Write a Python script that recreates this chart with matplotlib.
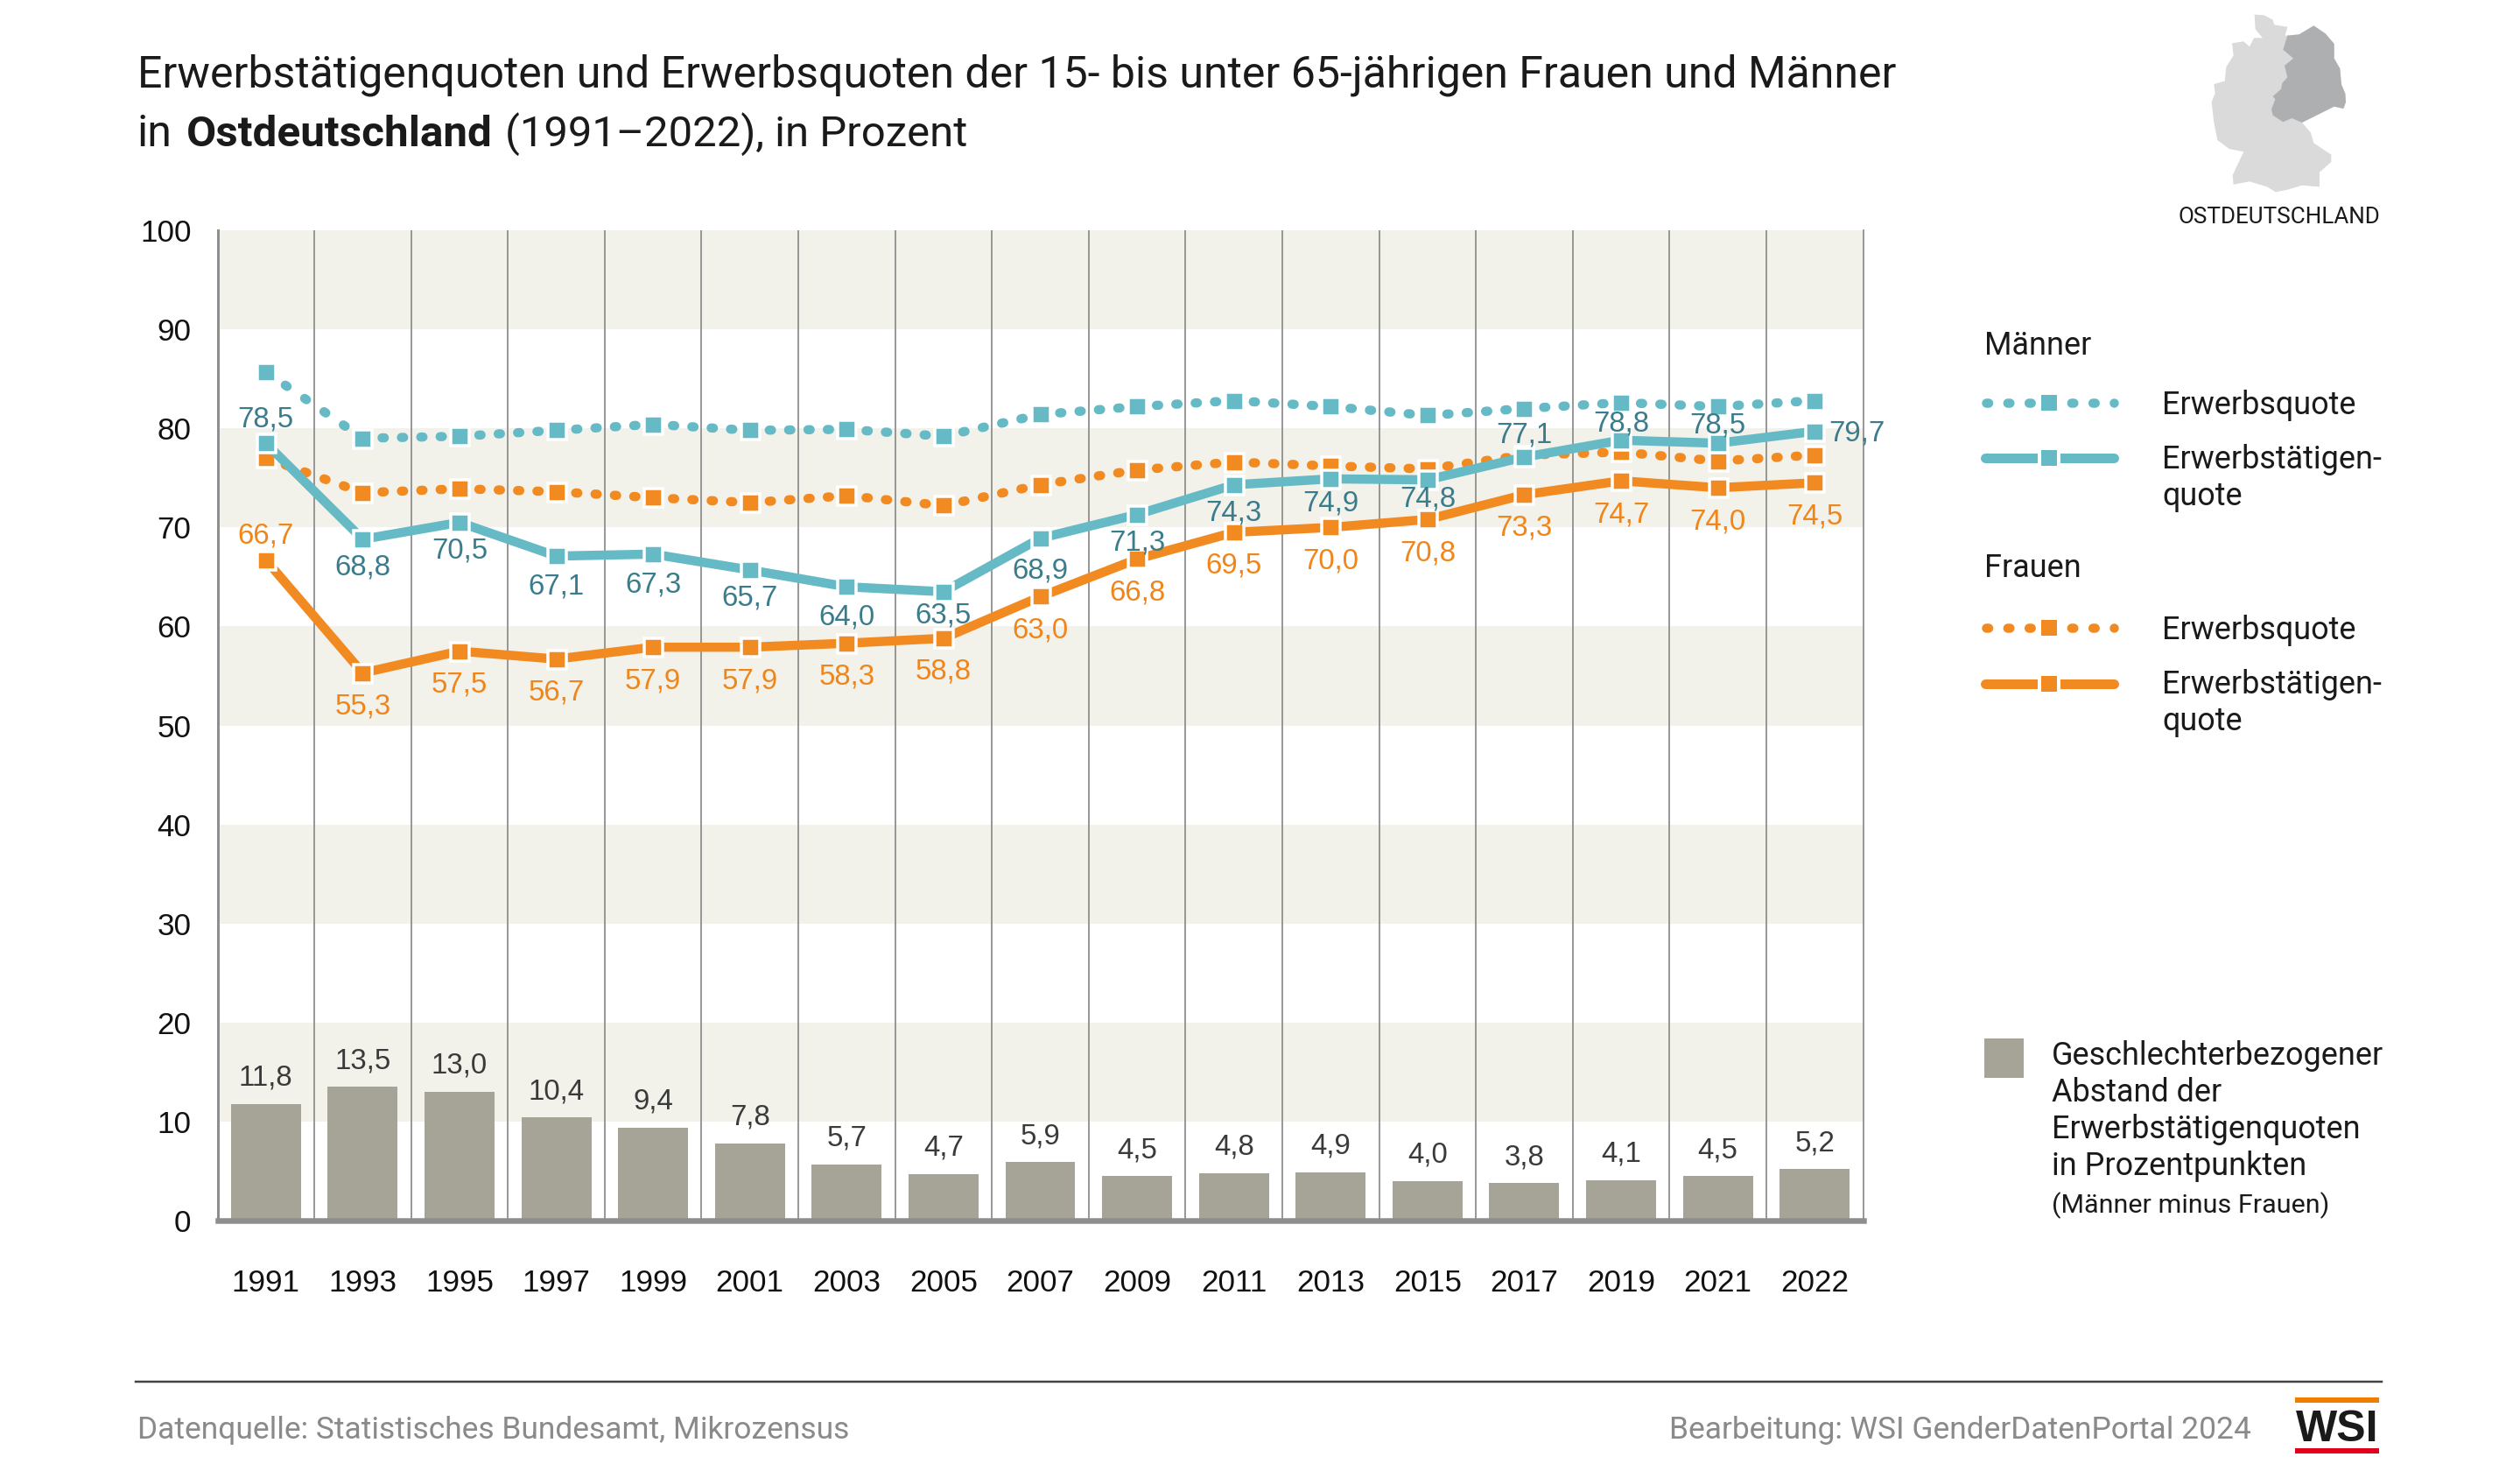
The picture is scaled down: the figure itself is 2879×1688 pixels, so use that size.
import matplotlib
matplotlib.use("Agg")
import matplotlib.pyplot as plt
from matplotlib.lines import Line2D
from matplotlib.patches import Polygon, Rectangle

W, H = 2879, 1688
plt.rcParams["font.family"] = ["Liberation Sans"]
WORDS = "Roboto"

TEAL = "#66BAC6"
TEAL_TXT = "#3B7C8C"
ORANGE = "#F28A22"
ORANGE_TXT = "#F0851A"
BAR = "#A6A496"
BAND = "#F2F2EA"
GRID = "#8E8E8E"
GREY_TXT = "#8A8A8A"

years = ["1991", "1993", "1995", "1997", "1999", "2001", "2003", "2005", "2007",
         "2009", "2011", "2013", "2015", "2017", "2019", "2021", "2022"]
maenner_erwerb = [85.7, 79.0, 79.2, 79.8, 80.4, 79.8, 79.9, 79.2, 81.4,
                  82.2, 82.8, 82.2, 81.3, 82.0, 82.6, 82.2, 82.8]
frauen_erwerb = [77.0, 73.5, 73.9, 73.6, 73.0, 72.5, 73.2, 72.2, 74.3,
                 75.8, 76.6, 76.2, 75.9, 77.3, 77.6, 76.7, 77.3]
maenner_taetig = [78.5, 68.8, 70.5, 67.1, 67.3, 65.7, 64.0, 63.5, 68.9,
                  71.3, 74.3, 74.9, 74.8, 77.1, 78.8, 78.5, 79.7]
frauen_taetig = [66.7, 55.3, 57.5, 56.7, 57.9, 57.9, 58.3, 58.8, 63.0,
                 66.8, 69.5, 70.0, 70.8, 73.3, 74.7, 74.0, 74.5]
abstand = [11.8, 13.5, 13.0, 10.4, 9.4, 7.8, 5.7, 4.7, 5.9,
           4.5, 4.8, 4.9, 4.0, 3.8, 4.1, 4.5, 5.2]
band_starts = [90, 70, 50, 30, 10]
yticks = list(range(0, 101, 10))

# label nudges in pixels, positive is upward
maenner_nudge = [-4, 0, 0, -2, -3, 0, -2, 5, -5, 0, 0, 4, 11, -7, -13, -11, 0]


def px(pixels):
    # pixels to points at dpi 100
    return pixels * 0.72


def de(v):
    return f"{v:.1f}".replace(".", ",")


fig = plt.figure(figsize=(W / 100, H / 100), dpi=100, facecolor="white")
ax = fig.add_axes([248.5 / W, 1 - 1394 / H, (2128.5 - 248.5) / W, (1394 - 263) / H])
xs = list(range(len(years)))
ax.set_xlim(-0.5, len(years) - 0.5)
ax.set_ylim(0, 100)

# background bands and vertical separators
for b in band_starts:
    ax.axhspan(b, b + 10, color=BAND, lw=0, zorder=0)
for i in range(1, len(years)):
    ax.axvline(i - 0.5, color=GRID, lw=px(1.8), zorder=1)

ax.bar(xs, abstand, width=0.723, color=BAR, zorder=2)
for x, v in zip(xs, abstand):
    ax.annotate(de(v), (x, v), xytext=(0, px(14)), textcoords="offset points",
                ha="center", va="bottom", fontsize=px(33), color="#3A3A3A", zorder=8)

DOT_LW = 10.5
DOT_ON = 0.24


def draw_line(vals, color, dotted, z):
    if dotted:
        # one dash pattern per segment so four dots sit between two markers
        for i in range(len(vals) - 1):
            p0 = ax.transData.transform((xs[i], vals[i]))
            p1 = ax.transData.transform((xs[i + 1], vals[i + 1]))
            seg = ((p1[0] - p0[0]) ** 2 + (p1[1] - p0[1]) ** 2) ** 0.5
            ax.plot(xs[i:i + 2], vals[i:i + 2], color=color, lw=px(DOT_LW), clip_on=False,
                    ls=(0, (DOT_ON, seg / 5 / DOT_LW - DOT_ON)), dash_capstyle="round", zorder=z)
    else:
        ax.plot(xs, vals, color=color, lw=px(10.5), solid_joinstyle="miter", zorder=z, clip_on=False)
    ax.plot(xs, vals, ls="", marker="s", ms=px(21), mfc=color, mec="white", mew=px(3.5),
            zorder=z + 0.1, clip_on=False)


draw_line(frauen_erwerb, ORANGE, True, 3)
draw_line(maenner_erwerb, TEAL, True, 4)
draw_line(frauen_taetig, ORANGE, False, 5)
draw_line(maenner_taetig, TEAL, False, 6)

# value labels: men mostly below, a few above, last one to the right
for i, (x, v) in enumerate(zip(xs, maenner_taetig)):
    above = i in (0, 13, 14, 15)
    if i == 16:
        ax.annotate(de(v), (x, v), xytext=(px(16), px(-2)), textcoords="offset points",
                    ha="left", va="center", fontsize=px(33), color=TEAL_TXT, zorder=9)
    else:
        off = px((16 if above else -17) + maenner_nudge[i])
        ax.annotate(de(v), (x, v), xytext=(0, off), textcoords="offset points", ha="center",
                    va="bottom" if above else "top", fontsize=px(33), color=TEAL_TXT, zorder=9)
for i, (x, v) in enumerate(zip(xs, frauen_taetig)):
    above = i == 0
    off = px(12) if above else px(-23)
    ax.annotate(de(v), (x, v), xytext=(0, off), textcoords="offset points", ha="center",
                va="bottom" if above else "top", fontsize=px(33), color=ORANGE_TXT, zorder=9)

ax.spines["top"].set_visible(False)
ax.spines["left"].set_color(GRID)
ax.spines["left"].set_linewidth(px(3))
ax.spines["right"].set_color(GRID)
ax.spines["right"].set_linewidth(px(1.8))
ax.spines["bottom"].set_color(GRID)
ax.spines["bottom"].set_linewidth(px(6.5))
ax.set_yticks(yticks)
ax.set_xticks(xs)
ax.set_xticklabels(years)
ax.tick_params(axis="both", length=0, labelsize=px(35), labelcolor="#111111")
ax.tick_params(axis="y", pad=px(30))
ax.tick_params(axis="x", pad=px(55))

# overlay in image pixels for title, legend, map and footer
ov = fig.add_axes([0, 0, 1, 1], facecolor="none")
ov.set_xlim(0, W)
ov.set_ylim(H, 0)
ov.axis("off")


def txt(x, y, s, size, color="#1A1A1A", **kw):
    kw.setdefault("va", "baseline")
    kw.setdefault("family", WORDS)
    return ov.text(x, y, s, fontsize=px(size), color=color, **kw)


txt(157, 100, "Erwerbstätigenquoten und Erwerbsquoten der 15- bis unter 65-jährigen Frauen und Männer", 50)
txt(157, 167, "in", 50)
txt(213, 167, "Ostdeutschland", 49.5, fontweight="bold")
txt(577, 167, "(1991–2022), in Prozent", 49)


def legend_sample(y, color, dotted):
    if dotted:
        period = 24.33 / DOT_LW
        ov.add_line(Line2D([2269, 2415], [y, y], color=color, lw=px(DOT_LW),
                           ls=(0, (DOT_ON, period - DOT_ON)), dash_capstyle="round"))
    else:
        ov.add_line(Line2D([2268, 2415], [y, y], color=color, lw=px(11), solid_capstyle="round"))
    ov.add_line(Line2D([2341], [y], ls="", marker="s", ms=px(22), mfc=color, mec="white", mew=px(4)))


txt(2267, 405, "Männer", 36)
legend_sample(460, TEAL, True)
txt(2470, 473, "Erwerbsquote", 36)
legend_sample(523, TEAL, False)
txt(2470, 535, "Erwerbstätigen-", 36)
txt(2470, 577, "quote", 36)

txt(2267, 659, "Frauen", 36)
legend_sample(717, ORANGE, True)
txt(2470, 730, "Erwerbsquote", 36)
legend_sample(781, ORANGE, False)
txt(2470, 792, "Erwerbstätigen-", 36)
txt(2470, 834, "quote", 36)

ov.add_patch(Rectangle((2267, 1186), 45, 45, color=BAR, lw=0))
for y, s in zip([1216, 1258, 1300, 1342],
                ["Geschlechterbezogener", "Abstand der", "Erwerbstätigenquoten", "in Prozentpunkten"]):
    txt(2344, y, s, 36)
txt(2344, 1385, "(Männer minus Frauen)", 30.5)

# Germany silhouette, only decoration
outline = [(527, 50), (560, 52), (590, 68), (595, 85), (640, 92), (632, 122), (680, 118), (730, 88),
           (770, 115), (800, 150), (800, 200), (820, 235), (825, 290), (838, 320), (840, 350), (832, 372),
           (800, 365), (760, 385), (690, 420), (720, 455), (730, 490), (790, 530), (790, 555), (750, 590),
           (750, 640), (690, 635), (640, 650), (600, 658), (570, 640), (510, 622), (455, 632), (452, 600),
           (490, 520), (440, 510), (400, 480), (388, 420), (380, 350), (392, 320), (388, 288), (425, 278),
           (430, 230), (455, 190), (450, 148), (490, 142), (510, 160), (525, 130), (555, 130), (530, 100)]
east = [(640, 122), (680, 118), (730, 88), (770, 115), (800, 150), (800, 200), (820, 235), (825, 290),
        (838, 320), (840, 350), (832, 372), (800, 365), (760, 385), (690, 420), (655, 405), (625, 418),
        (590, 395), (585, 375), (598, 340), (590, 330), (618, 305), (622, 285), (640, 265), (630, 225),
        (660, 200), (625, 170)]
ov.add_patch(Polygon([(2400 + a / 3, b / 3) for a, b in outline], color="#DADADA", lw=0))
ov.add_patch(Polygon([(2400 + a / 3, b / 3) for a, b in east], color="#AEAFB1", lw=0))
txt(2604, 255, "OSTDEUTSCHLAND", 26, ha="center")

# footer
ov.add_line(Line2D([155, 2721], [1578, 1578], color="#444444", lw=px(2.5)))
txt(157, 1643, "Datenquelle: Statistisches Bundesamt, Mikrozensus", 35.4, color=GREY_TXT)
txt(2572, 1643, "Bearbeitung: WSI GenderDatenPortal 2024", 35.4, color=GREY_TXT, ha="right")
ov.add_patch(Rectangle((2622, 1596), 96, 6, color="#F07D00", lw=0))
ov.add_patch(Rectangle((2622, 1654), 96, 6, color="#E2001A", lw=0))
txt(2670, 1646, "WSI", 50, color="#1A1A1A", ha="center", fontweight="bold", family="Liberation Sans")

fig.savefig("out.png", dpi=100)
